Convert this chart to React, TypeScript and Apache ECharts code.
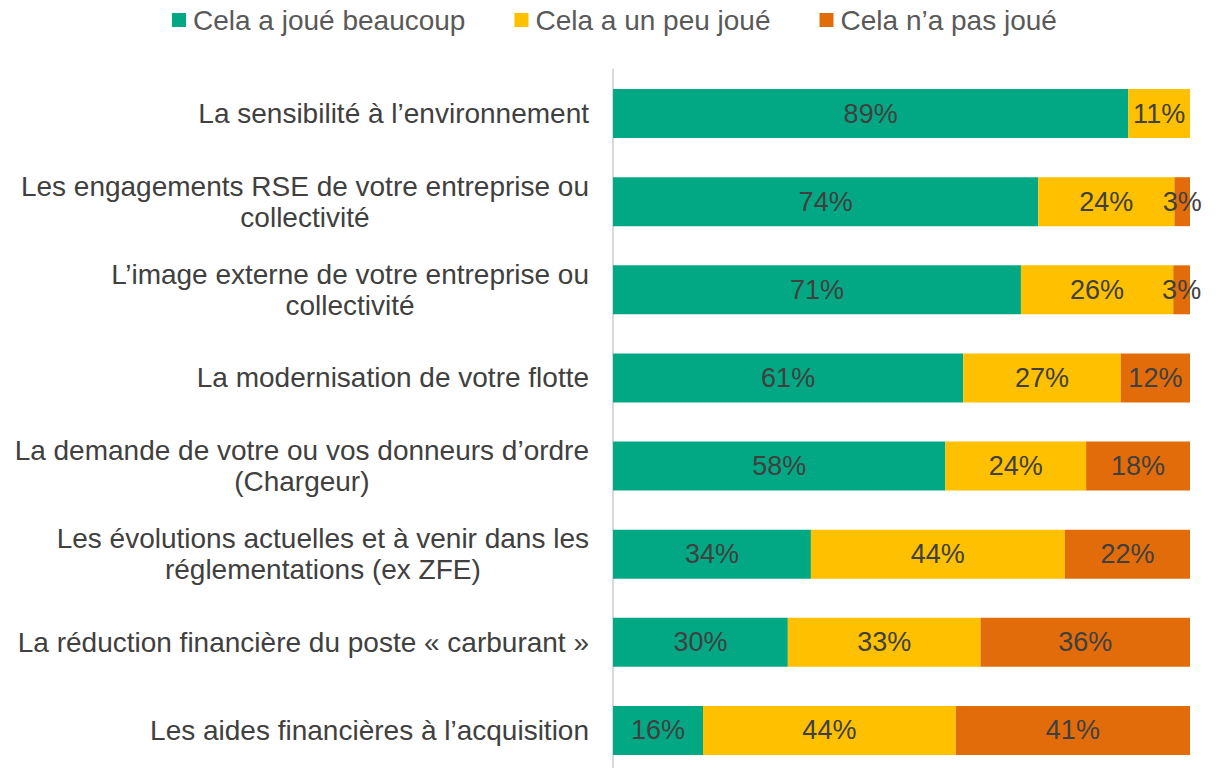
import React, { useEffect, useRef } from "react";
import * as echarts from "echarts";

const categories = [
  "La sensibilité à l’environnement",
  "Les engagements RSE de votre entreprise ou\ncollectivité",
  "L’image externe de votre entreprise ou\ncollectivité",
  "La modernisation de votre flotte",
  "La demande de votre ou vos donneurs d’ordre\n(Chargeur)",
  "Les évolutions actuelles et à venir dans les\nréglementations (ex ZFE)",
  "La réduction financière du poste « carburant »",
  "Les aides financières à l’acquisition",
];

const seriesNames = ["Cela a joué beaucoup", "Cela a un peu joué", "Cela n’a pas joué"];
const beaucoup = [89.3, 73.7, 70.7, 60.7, 57.6, 34.3, 30.3, 15.6];
const unPeu = [10.7, 23.6, 26.4, 27.3, 24.4, 44.0, 33.4, 43.8];
const pasJoue = [null, 2.7, 2.9, 12.0, 18.0, 21.7, 36.3, 40.6];
const colors = ["#02A884", "#FFC000", "#E36C0A"];

const FONT = "'Liberation Sans', Arial, sans-serif";

export default function App() {
  const ref = useRef<HTMLDivElement>(null);
  useEffect(() => {
    if (!ref.current) return;
    const chart = echarts.init(ref.current, null, { renderer: "svg" });
    const mk = (name: string, data: (number | null)[], color: string) => ({
      name,
      type: "bar",
      stack: "total",
      data,
      barWidth: 49,
      itemStyle: { color },
      label: {
        show: true,
        position: "inside",
        color: "#404040",
        fontSize: 27,
        fontFamily: FONT,
        formatter: (p: any) => (p.value == null ? "" : Math.round(p.value) + "%"),
      },
    });
    chart.setOption({
      animation: false,
      textStyle: { fontFamily: FONT },
      legend: {
        top: 1,
        left: 167,
        icon: "rect",
        itemWidth: 14,
        itemHeight: 14,
        itemGap: 49,
        textStyle: { color: "#595959", fontSize: 28, fontFamily: FONT, padding: [0, 0, 0, 2] },
        data: seriesNames,
      },
      grid: {
        left: 613,
        right: 28,
        top: 69.5,
        height: 705,
        containLabel: false,
        outerBoundsMode: "none",
      },
      xAxis: { type: "value", min: 0, max: 100, show: false },
      yAxis: {
        type: "category",
        inverse: true,
        data: categories,
        axisLine: { show: true, lineStyle: { color: "#D9D9D9", width: 2 } },
        axisTick: { show: false },
        axisLabel: {
          margin: 24,
          color: "#404040",
          fontSize: 28,
          fontFamily: FONT,
          lineHeight: 31,
          formatter: (v: string) =>
            v
              .split("\n")
              .map((l) => "{c|" + l + "}")
              .join("\n"),
          rich: {
            c: { align: "center", color: "#404040", fontSize: 28, fontFamily: FONT, lineHeight: 31 },
          },
        },
      },
      series: [
        mk(seriesNames[0], beaucoup, colors[0]),
        mk(seriesNames[1], unPeu, colors[1]),
        mk(seriesNames[2], pasJoue, colors[2]),
      ],
    });
    return () => chart.dispose();
  }, []);
  return (
    <div
      ref={ref}
      style={{ position: "fixed", left: 0, top: 0, width: 1218, height: 768, background: "#fff" }}
    />
  );
}
